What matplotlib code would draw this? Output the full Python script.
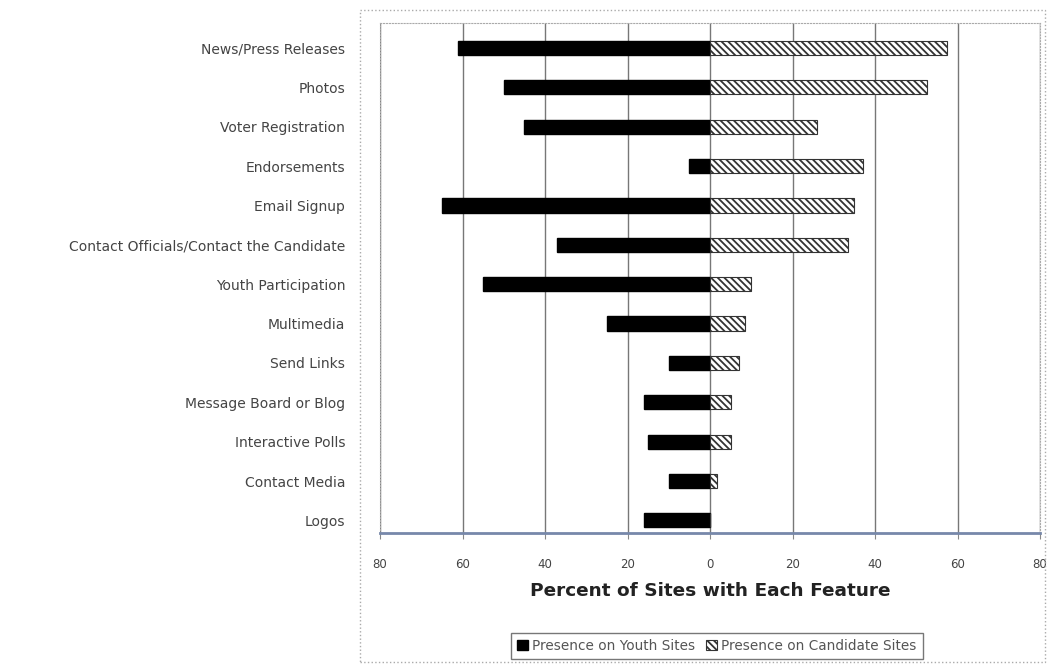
import matplotlib
matplotlib.use("Agg")
import matplotlib.pyplot as plt
from matplotlib.patches import Rectangle
import numpy as np

categories = ["News/Press Releases", "Photos", "Voter Registration", "Endorsements",
              "Email Signup", "Contact Officials/Contact the Candidate",
              "Youth Participation", "Multimedia", "Send Links",
              "Message Board or Blog", "Interactive Polls", "Contact Media", "Logos"]
youth = [61, 50, 45, 5, 65, 37, 55, 25, 10, 16, 15, 10, 16]
candidate = [57.5, 52.5, 26, 37, 35, 33.5, 10, 8.5, 7, 5, 5, 1.7, 0]
tick_values = [-80, -60, -40, -20, 0, 20, 40, 60, 80]
tick_labels = ["80", "60", "40", "20", "0", "20", "40", "60", "80"]

plt.rcParams['hatch.linewidth'] = 1.3
W, H = 1049, 667
fig = plt.figure(figsize=(W / 100, H / 100), dpi=100)
ax_l, ax_r, ax_t, ax_b = 380, 1040, 23, 533
ax = fig.add_axes([ax_l / W, 1 - ax_b / H, (ax_r - ax_l) / W, (ax_b - ax_t) / H])

y = np.arange(len(categories))
h = 0.36
ax.barh(y, [-v for v in youth], height=h, color="black", edgecolor="black",
        label="Presence on Youth Sites", zorder=3)
ax.barh(y, candidate, height=h, color="white", edgecolor="#333333", hatch="\\\\\\\\\\",
        linewidth=0.8, label="Presence on Candidate Sites", zorder=3)

ax.set_ylim(12.32, -0.635)
ax.set_xlim(-80, 80)
ax.set_yticks(y)
ax.set_yticklabels(categories, fontsize=10, color="#444444")
ax.set_xticks(tick_values)
ax.set_xticklabels(tick_labels, fontsize=8.5, color="#444444")
ax.tick_params(axis="y", length=0, pad=25)
ax.tick_params(axis="x", length=4, color="#888888", pad=14)
ax.grid(axis="x", color="#777777", linewidth=1.0, zorder=0)
for s in ["top", "right", "left"]:
    ax.spines[s].set_color("#aaaaaa")
    ax.spines[s].set_linestyle(":")
ax.spines["bottom"].set_color("#7788aa")
ax.spines["bottom"].set_linewidth(2)
ax.set_xlabel("Percent of Sites with Each Feature", fontsize=13.3, fontweight="bold",
              color="#222222", labelpad=8)

leg = fig.legend(*ax.get_legend_handles_labels(), loc="center",
                 bbox_to_anchor=(717 / W, 1 - 646 / H), ncol=2,
                 fontsize=9.8, frameon=True, fancybox=False, edgecolor="#555555",
                 handlelength=0.8, handleheight=0.8, columnspacing=0.8,
                 handletextpad=0.3, borderpad=0.45)
for t in leg.get_texts():
    t.set_color("#555555")

fig.patches.append(Rectangle((360 / W, 1 - 662 / H), 685 / W, 652 / H, transform=fig.transFigure,
                             fill=False, edgecolor="#aaaaaa", linestyle=":", linewidth=1))

fig.savefig("out.png", dpi=100)
